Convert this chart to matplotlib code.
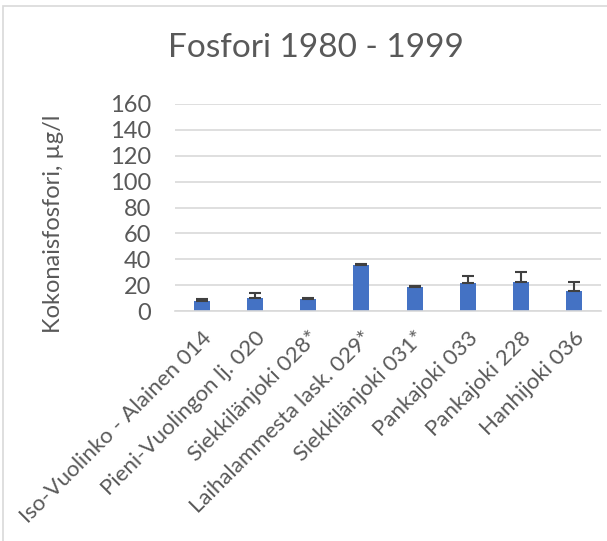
import numpy as np
import matplotlib.pyplot as plt
import matplotlib
from matplotlib.patches import Rectangle

matplotlib.rc('font', family=['Lato', 'DejaVu Sans'])

# Kokonaisfosfori, keskiarvot ja virheet (µg/l)
paikat = ['Iso-Vuolinko - Alainen 014', 'Pieni-Vuolingon lj. 020',
          'Siekkilänjoki 028*', 'Laihalammesta lask. 029*',
          'Siekkilänjoki 031*', 'Pankajoki 033', 'Pankajoki 228',
          'Hanhijoki 036']
keskiarvo = [7.5, 9.8, 9.0, 35.5, 18.5, 21.6, 22.7, 15.2]
virhe = [1.5, 4.4, 1.0, 0.5, 0.5, 5.7, 7.2, 7.2]
yticks = [0, 20, 40, 60, 80, 100, 120, 140, 160]

harmaa = '#595959'

fig = plt.figure(figsize=(6.07, 5.41), dpi=100)
ax = fig.add_axes([0.2883, 0.4251, 0.7017, 0.3827])

x = np.arange(len(paikat))
ax.bar(x, keskiarvo, width=0.3, color='#4472C4', zorder=2)
ax.errorbar(x, keskiarvo, yerr=[np.zeros(len(virhe)), virhe], fmt='none',
            ecolor='#404040', elinewidth=1.5, capsize=4.5, capthick=1.5,
            zorder=3)

ax.set_xlim(-0.5, len(paikat) - 0.5)
ax.set_ylim(0, 160)
ax.set_yticks(yticks)
ax.yaxis.grid(True, color='#d9d9d9', linewidth=1.2, zorder=0)
ax.set_axisbelow(True)
for s in ['top', 'right', 'left']:
    ax.spines[s].set_visible(False)
ax.spines['bottom'].set_color('#d9d9d9')
ax.spines['bottom'].set_linewidth(1.2)
ax.tick_params(length=0, labelcolor=harmaa, labelsize=17)
ax.tick_params(axis='y', pad=17)
ax.set_xticks(x)
ax.set_xticklabels(paikat, rotation=45, ha='right', va='top',
                   rotation_mode='anchor', fontsize=16)
ax.tick_params(axis='x', pad=12)

fig.text(53 / 607, 1 - 224 / 541, 'Kokonaisfosfori, µg/l', color=harmaa,
         fontsize=17, rotation=90, ha='center', va='center')
fig.text(0.5206, 0.911, 'Fosfori 1980 - 1999', color=harmaa, fontsize=24,
         ha='center', va='center')

# kaavion kehys
fig.patches.append(Rectangle((2.5 / 607, -0.1), 1.2, 1.1 - 5.5 / 541,
                             transform=fig.transFigure, fill=False,
                             edgecolor='#d9d9d9', linewidth=1.2))

fig.savefig('out.png', dpi=100)
